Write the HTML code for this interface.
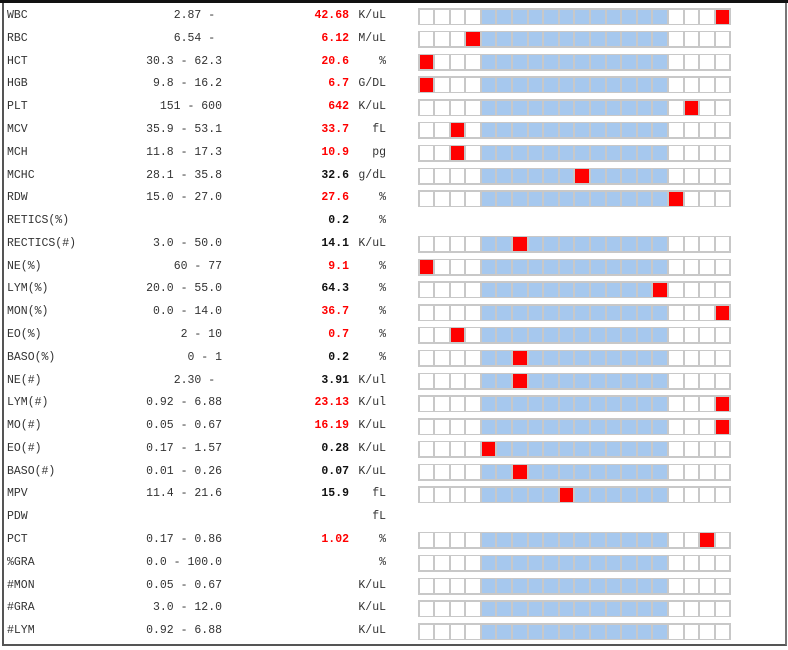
<!DOCTYPE html>
<html><head><meta charset="utf-8"><style>
body{margin:0;width:788px;height:650px;background:#fff;position:relative;overflow:hidden;font-family:"Liberation Mono",monospace;font-size:11.5px;color:#333}
.top{position:absolute;left:0;top:0;width:788px;height:3px;background:#111}
.frame{position:absolute;left:2px;top:3px;width:781px;height:641px;border-left:2px solid #555;border-right:2px solid #777;border-bottom:2px solid #555}
.row{position:absolute;left:0;width:788px;height:23px;line-height:23px}
.n{position:absolute;left:7px;top:0}
.g{position:absolute;right:566px;top:0;white-space:pre}
.v{position:absolute;right:439px;top:0;font-weight:bold;color:#111}
.v.red{color:#f00}
.u{position:absolute;right:402px;top:0}
.s{position:absolute;left:418px;top:4px;width:310px;height:14px;padding:1.5px;background:#c8c8c8;display:flex;gap:2px}
.s i{display:block;width:13.6px;height:14px;background:#fff}
.s i.b{background:#a6c8ee}
.s i.r{background:#f00}
</style></head><body>
<div class="top"></div><div class="frame"></div>

<div class="row" style="top:4px"><span class="n">WBC</span><span class="g">2.87 - </span><span class="v red">42.68</span><span class="u">K/uL</span><div class="s"><i></i><i></i><i></i><i></i><i class=b></i><i class=b></i><i class=b></i><i class=b></i><i class=b></i><i class=b></i><i class=b></i><i class=b></i><i class=b></i><i class=b></i><i class=b></i><i class=b></i><i></i><i></i><i></i><i class=r></i></div></div>

<div class="row" style="top:26.8px"><span class="n">RBC</span><span class="g">6.54 - </span><span class="v red">6.12</span><span class="u">M/uL</span><div class="s"><i></i><i></i><i></i><i class=r></i><i class=b></i><i class=b></i><i class=b></i><i class=b></i><i class=b></i><i class=b></i><i class=b></i><i class=b></i><i class=b></i><i class=b></i><i class=b></i><i class=b></i><i></i><i></i><i></i><i></i></div></div>

<div class="row" style="top:49.6px"><span class="n">HCT</span><span class="g">30.3 - 62.3</span><span class="v red">20.6</span><span class="u">%</span><div class="s"><i class=r></i><i></i><i></i><i></i><i class=b></i><i class=b></i><i class=b></i><i class=b></i><i class=b></i><i class=b></i><i class=b></i><i class=b></i><i class=b></i><i class=b></i><i class=b></i><i class=b></i><i></i><i></i><i></i><i></i></div></div>

<div class="row" style="top:72.3px"><span class="n">HGB</span><span class="g">9.8 - 16.2</span><span class="v red">6.7</span><span class="u">G/DL</span><div class="s"><i class=r></i><i></i><i></i><i></i><i class=b></i><i class=b></i><i class=b></i><i class=b></i><i class=b></i><i class=b></i><i class=b></i><i class=b></i><i class=b></i><i class=b></i><i class=b></i><i class=b></i><i></i><i></i><i></i><i></i></div></div>

<div class="row" style="top:95.1px"><span class="n">PLT</span><span class="g">151 - 600</span><span class="v red">642</span><span class="u">K/uL</span><div class="s"><i></i><i></i><i></i><i></i><i class=b></i><i class=b></i><i class=b></i><i class=b></i><i class=b></i><i class=b></i><i class=b></i><i class=b></i><i class=b></i><i class=b></i><i class=b></i><i class=b></i><i></i><i class=r></i><i></i><i></i></div></div>

<div class="row" style="top:117.9px"><span class="n">MCV</span><span class="g">35.9 - 53.1</span><span class="v red">33.7</span><span class="u">fL</span><div class="s"><i></i><i></i><i class=r></i><i></i><i class=b></i><i class=b></i><i class=b></i><i class=b></i><i class=b></i><i class=b></i><i class=b></i><i class=b></i><i class=b></i><i class=b></i><i class=b></i><i class=b></i><i></i><i></i><i></i><i></i></div></div>

<div class="row" style="top:140.7px"><span class="n">MCH</span><span class="g">11.8 - 17.3</span><span class="v red">10.9</span><span class="u">pg</span><div class="s"><i></i><i></i><i class=r></i><i></i><i class=b></i><i class=b></i><i class=b></i><i class=b></i><i class=b></i><i class=b></i><i class=b></i><i class=b></i><i class=b></i><i class=b></i><i class=b></i><i class=b></i><i></i><i></i><i></i><i></i></div></div>

<div class="row" style="top:163.5px"><span class="n">MCHC</span><span class="g">28.1 - 35.8</span><span class="v">32.6</span><span class="u">g/dL</span><div class="s"><i></i><i></i><i></i><i></i><i class=b></i><i class=b></i><i class=b></i><i class=b></i><i class=b></i><i class=b></i><i class=r></i><i class=b></i><i class=b></i><i class=b></i><i class=b></i><i class=b></i><i></i><i></i><i></i><i></i></div></div>

<div class="row" style="top:186.2px"><span class="n">RDW</span><span class="g">15.0 - 27.0</span><span class="v red">27.6</span><span class="u">%</span><div class="s"><i></i><i></i><i></i><i></i><i class=b></i><i class=b></i><i class=b></i><i class=b></i><i class=b></i><i class=b></i><i class=b></i><i class=b></i><i class=b></i><i class=b></i><i class=b></i><i class=b></i><i class=r></i><i></i><i></i><i></i></div></div>

<div class="row" style="top:209px"><span class="n">RETICS(%)</span><span class="v">0.2</span><span class="u">%</span></div>

<div class="row" style="top:231.8px"><span class="n">RECTICS(#)</span><span class="g">3.0 - 50.0</span><span class="v">14.1</span><span class="u">K/uL</span><div class="s"><i></i><i></i><i></i><i></i><i class=b></i><i class=b></i><i class=r></i><i class=b></i><i class=b></i><i class=b></i><i class=b></i><i class=b></i><i class=b></i><i class=b></i><i class=b></i><i class=b></i><i></i><i></i><i></i><i></i></div></div>

<div class="row" style="top:254.6px"><span class="n">NE(%)</span><span class="g">60 - 77</span><span class="v red">9.1</span><span class="u">%</span><div class="s"><i class=r></i><i></i><i></i><i></i><i class=b></i><i class=b></i><i class=b></i><i class=b></i><i class=b></i><i class=b></i><i class=b></i><i class=b></i><i class=b></i><i class=b></i><i class=b></i><i class=b></i><i></i><i></i><i></i><i></i></div></div>

<div class="row" style="top:277.4px"><span class="n">LYM(%)</span><span class="g">20.0 - 55.0</span><span class="v">64.3</span><span class="u">%</span><div class="s"><i></i><i></i><i></i><i></i><i class=b></i><i class=b></i><i class=b></i><i class=b></i><i class=b></i><i class=b></i><i class=b></i><i class=b></i><i class=b></i><i class=b></i><i class=b></i><i class=r></i><i></i><i></i><i></i><i></i></div></div>

<div class="row" style="top:300.1px"><span class="n">MON(%)</span><span class="g">0.0 - 14.0</span><span class="v red">36.7</span><span class="u">%</span><div class="s"><i></i><i></i><i></i><i></i><i class=b></i><i class=b></i><i class=b></i><i class=b></i><i class=b></i><i class=b></i><i class=b></i><i class=b></i><i class=b></i><i class=b></i><i class=b></i><i class=b></i><i></i><i></i><i></i><i class=r></i></div></div>

<div class="row" style="top:322.9px"><span class="n">EO(%)</span><span class="g">2 - 10</span><span class="v red">0.7</span><span class="u">%</span><div class="s"><i></i><i></i><i class=r></i><i></i><i class=b></i><i class=b></i><i class=b></i><i class=b></i><i class=b></i><i class=b></i><i class=b></i><i class=b></i><i class=b></i><i class=b></i><i class=b></i><i class=b></i><i></i><i></i><i></i><i></i></div></div>

<div class="row" style="top:345.7px"><span class="n">BASO(%)</span><span class="g">0 - 1</span><span class="v">0.2</span><span class="u">%</span><div class="s"><i></i><i></i><i></i><i></i><i class=b></i><i class=b></i><i class=r></i><i class=b></i><i class=b></i><i class=b></i><i class=b></i><i class=b></i><i class=b></i><i class=b></i><i class=b></i><i class=b></i><i></i><i></i><i></i><i></i></div></div>

<div class="row" style="top:368.5px"><span class="n">NE(#)</span><span class="g">2.30 - </span><span class="v">3.91</span><span class="u">K/ul</span><div class="s"><i></i><i></i><i></i><i></i><i class=b></i><i class=b></i><i class=r></i><i class=b></i><i class=b></i><i class=b></i><i class=b></i><i class=b></i><i class=b></i><i class=b></i><i class=b></i><i class=b></i><i></i><i></i><i></i><i></i></div></div>

<div class="row" style="top:391.3px"><span class="n">LYM(#)</span><span class="g">0.92 - 6.88</span><span class="v red">23.13</span><span class="u">K/ul</span><div class="s"><i></i><i></i><i></i><i></i><i class=b></i><i class=b></i><i class=b></i><i class=b></i><i class=b></i><i class=b></i><i class=b></i><i class=b></i><i class=b></i><i class=b></i><i class=b></i><i class=b></i><i></i><i></i><i></i><i class=r></i></div></div>

<div class="row" style="top:414px"><span class="n">MO(#)</span><span class="g">0.05 - 0.67</span><span class="v red">16.19</span><span class="u">K/uL</span><div class="s"><i></i><i></i><i></i><i></i><i class=b></i><i class=b></i><i class=b></i><i class=b></i><i class=b></i><i class=b></i><i class=b></i><i class=b></i><i class=b></i><i class=b></i><i class=b></i><i class=b></i><i></i><i></i><i></i><i class=r></i></div></div>

<div class="row" style="top:436.8px"><span class="n">EO(#)</span><span class="g">0.17 - 1.57</span><span class="v">0.28</span><span class="u">K/uL</span><div class="s"><i></i><i></i><i></i><i></i><i class=r></i><i class=b></i><i class=b></i><i class=b></i><i class=b></i><i class=b></i><i class=b></i><i class=b></i><i class=b></i><i class=b></i><i class=b></i><i class=b></i><i></i><i></i><i></i><i></i></div></div>

<div class="row" style="top:459.6px"><span class="n">BASO(#)</span><span class="g">0.01 - 0.26</span><span class="v">0.07</span><span class="u">K/uL</span><div class="s"><i></i><i></i><i></i><i></i><i class=b></i><i class=b></i><i class=r></i><i class=b></i><i class=b></i><i class=b></i><i class=b></i><i class=b></i><i class=b></i><i class=b></i><i class=b></i><i class=b></i><i></i><i></i><i></i><i></i></div></div>

<div class="row" style="top:482.4px"><span class="n">MPV</span><span class="g">11.4 - 21.6</span><span class="v">15.9</span><span class="u">fL</span><div class="s"><i></i><i></i><i></i><i></i><i class=b></i><i class=b></i><i class=b></i><i class=b></i><i class=b></i><i class=r></i><i class=b></i><i class=b></i><i class=b></i><i class=b></i><i class=b></i><i class=b></i><i></i><i></i><i></i><i></i></div></div>

<div class="row" style="top:505.2px"><span class="n">PDW</span><span class="u">fL</span></div>

<div class="row" style="top:527.9px"><span class="n">PCT</span><span class="g">0.17 - 0.86</span><span class="v red">1.02</span><span class="u">%</span><div class="s"><i></i><i></i><i></i><i></i><i class=b></i><i class=b></i><i class=b></i><i class=b></i><i class=b></i><i class=b></i><i class=b></i><i class=b></i><i class=b></i><i class=b></i><i class=b></i><i class=b></i><i></i><i></i><i class=r></i><i></i></div></div>

<div class="row" style="top:550.7px"><span class="n">%GRA</span><span class="g">0.0 - 100.0</span><span class="u">%</span><div class="s"><i></i><i></i><i></i><i></i><i class=b></i><i class=b></i><i class=b></i><i class=b></i><i class=b></i><i class=b></i><i class=b></i><i class=b></i><i class=b></i><i class=b></i><i class=b></i><i class=b></i><i></i><i></i><i></i><i></i></div></div>

<div class="row" style="top:573.5px"><span class="n">#MON</span><span class="g">0.05 - 0.67</span><span class="u">K/uL</span><div class="s"><i></i><i></i><i></i><i></i><i class=b></i><i class=b></i><i class=b></i><i class=b></i><i class=b></i><i class=b></i><i class=b></i><i class=b></i><i class=b></i><i class=b></i><i class=b></i><i class=b></i><i></i><i></i><i></i><i></i></div></div>

<div class="row" style="top:596.3px"><span class="n">#GRA</span><span class="g">3.0 - 12.0</span><span class="u">K/uL</span><div class="s"><i></i><i></i><i></i><i></i><i class=b></i><i class=b></i><i class=b></i><i class=b></i><i class=b></i><i class=b></i><i class=b></i><i class=b></i><i class=b></i><i class=b></i><i class=b></i><i class=b></i><i></i><i></i><i></i><i></i></div></div>

<div class="row" style="top:619.1px"><span class="n">#LYM</span><span class="g">0.92 - 6.88</span><span class="u">K/uL</span><div class="s"><i></i><i></i><i></i><i></i><i class=b></i><i class=b></i><i class=b></i><i class=b></i><i class=b></i><i class=b></i><i class=b></i><i class=b></i><i class=b></i><i class=b></i><i class=b></i><i class=b></i><i></i><i></i><i></i><i></i></div></div>

</body></html>
